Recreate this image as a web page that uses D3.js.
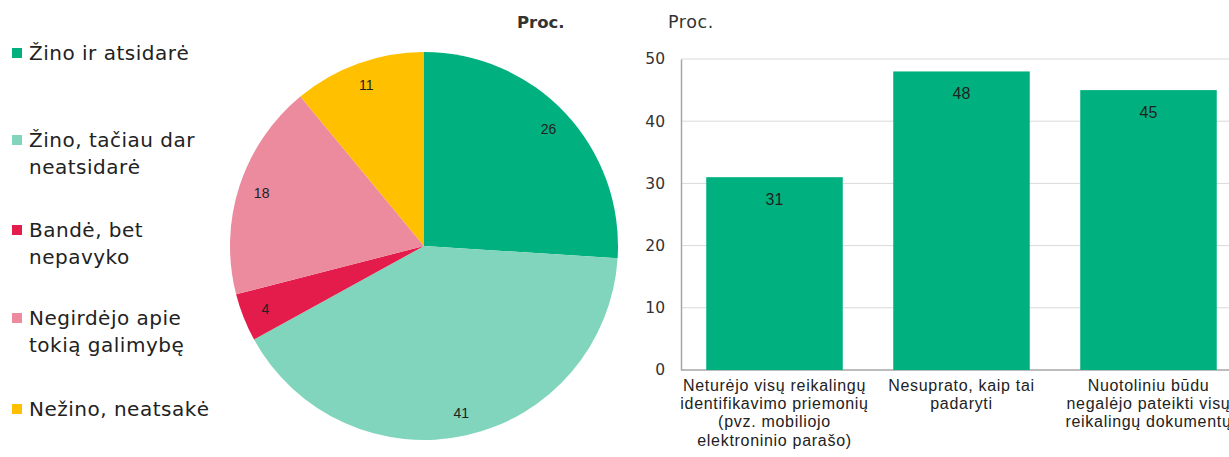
<!DOCTYPE html>
<html>
<head>
<meta charset="utf-8">
<script src="https://cdn.jsdelivr.net/npm/d3@7"></script>
<style>
  body { margin: 0; background: #fff; }
  svg { display: block; }
</style>
</head>
<body>
<div class="content-container"></div>
<script>
  // pie data
  const pieLabels = ["Žino ir atsidarė", "Žino, tačiau dar neatsidarė", "Bandė, bet nepavyko", "Negirdėjo apie tokią galimybę", "Nežino, neatsakė"];
  const legendLines = [["Žino ir atsidarė"], ["Žino, tačiau dar", "neatsidarė"], ["Bandė, bet", "nepavyko"], ["Negirdėjo apie", "tokią galimybę"], ["Nežino, neatsakė"]];
  const pieValues = [26, 41, 4, 18, 11];
  const pieColors = ["#00b07e", "#80d5bc", "#e31c4b", "#ec8a9e", "#ffc000"];

  // bar data
  const barCategories = ["A", "B", "C"];
  const barLabelLines = [
    ["Neturėjo visų reikalingų", "identifikavimo priemonių", "(pvz. mobiliojo", "elektroninio parašo)"],
    ["Nesuprato, kaip tai", "padaryti"],
    ["Nuotoliniu būdu", "negalėjo pateikti visų", "reikalingų dokumentų"]
  ];
  const barValues = [31, 48, 45];
  const yTicks = [0, 10, 20, 30, 40, 50];

  const width = 1229;
  const height = 457;

  const svg = d3.select(".content-container")
    .append("svg")
    .attr("width", width)
    .attr("height", height);

  //LEGEND
  const legendTop = [53, 140, 230, 318, 409];
  const legend = svg.selectAll(".legend")
    .data(legendLines)
    .enter()
    .append("g")
    .attr("class", "legend");

  legend.append("rect")
    .attr("x", 12)
    .attr("y", (d, i) => legendTop[i] - 5)
    .attr("width", 10)
    .attr("height", 10)
    .attr("fill", (d, i) => pieColors[i]);

  legend.each(function(d, i) {
    d3.select(this).selectAll("text")
      .data(d)
      .enter()
      .append("text")
      .attr("x", 29)
      .attr("y", (t, j) => legendTop[i] + j * 27)
      .attr("dy", "0.35em")
      .style("font-family", "DejaVu Sans, Verdana, sans-serif")
      .style("font-size", "20px")
      .style("letter-spacing", "0.5px")
      .style("fill", "#222")
      .text(t => t);
  });

  //PIE
  const cx = 424, cy = 246, r = 194;
  const pie = d3.pie().sort(null).value(d => d);
  const arc = d3.arc().innerRadius(0).outerRadius(r);
  const labelArc = d3.arc().innerRadius(r * 0.88).outerRadius(r * 0.88);

  const pieG = svg.append("g").attr("transform", "translate(" + cx + "," + cy + ")");
  const slices = pieG.selectAll(".slice")
    .data(pie(pieValues))
    .enter()
    .append("g");

  slices.append("path")
    .attr("d", arc)
    .attr("fill", (d, i) => pieColors[i]);

  slices.append("text")
    .attr("transform", d => "translate(" + labelArc.centroid(d) + ")")
    .attr("text-anchor", "middle")
    .attr("dy", "0.35em")
    .style("font-family", "Liberation Sans, Arial, sans-serif")
    .style("font-size", "14px")
    .style("fill", "#222")
    .text(d => d.data);

  svg.append("text")
    .attr("x", 517)
    .attr("y", 28)
    .style("font-family", "DejaVu Sans, Verdana, sans-serif")
    .style("font-size", "16.5px")
    .style("font-weight", "bold")
    .style("fill", "#333")
    .text("Proc.");

  //BAR CHART
  const x0 = 681, x1 = 1242, yTop = 59, yBottom = 370;
  const xScale = d3.scaleBand()
    .domain(barCategories)
    .range([x0, x1])
    .paddingInner(0.27)
    .paddingOuter(0.135);
  const yScale = d3.scaleLinear().domain([0, 50]).range([yBottom, yTop]);

  svg.append("text")
    .attr("x", 668)
    .attr("y", 28)
    .style("font-family", "DejaVu Sans, Verdana, sans-serif")
    .style("font-size", "17.5px")
    .style("letter-spacing", "0.6px")
    .style("fill", "#333")
    .text("Proc.");

  // gridlines
  svg.append("g")
    .selectAll("line")
    .data(yTicks.filter(t => t > 0))
    .enter()
    .append("line")
    .attr("x1", x0)
    .attr("x2", width)
    .attr("y1", d => yScale(d))
    .attr("y2", d => yScale(d))
    .attr("stroke", "#d9d9d9")
    .attr("stroke-width", 1);

  const yAxis = d3.axisLeft(yScale).tickValues(yTicks).tickSize(0).tickPadding(16);
  const yG = svg.append("g")
    .attr("transform", "translate(" + x0 + ",0)")
    .call(yAxis);
  yG.select(".domain").attr("stroke", "#a6a6a6").attr("stroke-width", 1.5);
  yG.selectAll("text")
    .style("font-family", "DejaVu Sans, Verdana, sans-serif")
    .style("font-size", "15.5px")
    .style("fill", "#333");

  // bottom axis line
  svg.append("line")
    .attr("x1", x0)
    .attr("x2", width)
    .attr("y1", yBottom)
    .attr("y2", yBottom)
    .attr("stroke", "#a6a6a6")
    .attr("stroke-width", 1.5);

  svg.selectAll(".bar")
    .data(barValues)
    .enter()
    .append("rect")
    .attr("class", "bar")
    .attr("x", (d, i) => xScale(barCategories[i]))
    .attr("y", d => yScale(d))
    .attr("width", xScale.bandwidth())
    .attr("height", d => yBottom - yScale(d))
    .attr("fill", "#00b07e");

  svg.selectAll(".barlabel")
    .data(barValues)
    .enter()
    .append("text")
    .attr("class", "barlabel")
    .attr("x", (d, i) => xScale(barCategories[i]) + xScale.bandwidth() / 2)
    .attr("y", d => yScale(d) + 22)
    .attr("dy", "0.35em")
    .attr("text-anchor", "middle")
    .style("font-family", "Liberation Sans, Arial, sans-serif")
    .style("font-size", "16px")
    .style("fill", "#222")
    .text(d => d);

  const catG = svg.selectAll(".cat")
    .data(barLabelLines)
    .enter()
    .append("g")
    .attr("class", "cat");

  catG.each(function(lines, i) {
    const cxBar = xScale(barCategories[i]) + xScale.bandwidth() / 2;
    d3.select(this).selectAll("text")
      .data(lines)
      .enter()
      .append("text")
      .attr("x", cxBar)
      .attr("y", (t, j) => 385 + j * 18.3)
      .attr("dy", "0.35em")
      .attr("text-anchor", "middle")
      .style("font-family", "Liberation Sans, Arial, sans-serif")
      .style("font-size", "16px")
      .style("letter-spacing", "0.7px")
      .style("fill", "#222")
      .text(t => t);
  });
</script>
</body>
</html>
